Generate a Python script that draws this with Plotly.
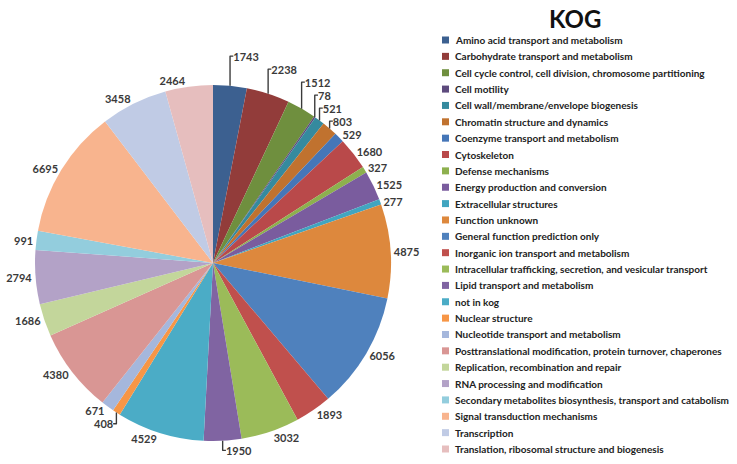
import plotly.graph_objects as go

categories = [
    "Amino acid transport and metabolism",
    "Carbohydrate transport and metabolism",
    "Cell cycle control, cell division, chromosome partitioning",
    "Cell motility",
    "Cell wall/membrane/envelope biogenesis",
    "Chromatin structure and dynamics",
    "Coenzyme transport and metabolism",
    "Cytoskeleton",
    "Defense mechanisms",
    "Energy production and conversion",
    "Extracellular structures",
    "Function unknown",
    "General function prediction only",
    "Inorganic ion transport and metabolism",
    "Intracellular trafficking, secretion, and vesicular transport",
    "Lipid transport and metabolism",
    "not in kog",
    "Nuclear structure",
    "Nucleotide transport and metabolism",
    "Posttranslational modification, protein turnover, chaperones",
    "Replication, recombination and repair",
    "RNA processing and modification",
    "Secondary metabolites biosynthesis, transport and catabolism",
    "Signal transduction mechanisms",
    "Transcription",
    "Translation, ribosomal structure and biogenesis",
]
counts = [1743, 2238, 1512, 78, 521, 803, 529, 1680, 327, 1525, 277, 4875, 6056,
          1893, 3032, 1950, 4529, 408, 671, 4380, 1686, 2794, 991, 6695, 3458, 2464]
colors = ["#3C6090", "#923C3A", "#6F8F3E", "#5D4A7D", "#358A9E", "#C0722F",
          "#4576B8", "#B9494A", "#8DB04E", "#7A5C9E", "#41A5C0", "#DD883D",
          "#4F81BD", "#C0504D", "#9BBB59", "#8064A2", "#4BACC6", "#F79646",
          "#A5B7DC", "#D99694", "#C3D69B", "#B3A2C7", "#93CDDD", "#F8B48E",
          "#C0CBE5", "#E6BEBE"]
title_text = "KOG"

W, H = 737, 464
FONT = "Lato"

fig = go.Figure()
fig.add_trace(go.Pie(
    labels=categories, values=counts, sort=False, direction="clockwise", rotation=0,
    marker=dict(colors=colors, line=dict(width=0)),
    textinfo="value", textposition="outside",
    outsidetextfont=dict(family=FONT, size=11, color="#3a3a3a", weight="bold"),
    automargin=False, showlegend=False,
    domain=dict(x=[35 / W, 391 / W], y=[(201 - 178) / H, (201 + 178) / H]),
    hoverinfo="label+value",
))

annotations = [dict(text="<b>" + title_text + "</b>", x=575 / W, y=1 - 19 / H,
                    xref="paper", yref="paper", showarrow=False,
                    font=dict(family=FONT, size=24, color="#111111"),
                    xanchor="center", yanchor="middle")]
shapes = []
y0, step = 40, 16.36
for i, (cat, col) in enumerate(zip(categories, colors)):
    yc = y0 + i * step
    shapes.append(dict(type="rect", xref="paper", yref="paper",
                       x0=442 / W, x1=449 / W, y0=1 - (yc + 3.5) / H, y1=1 - (yc - 3.5) / H,
                       fillcolor=col, line=dict(width=0)))
    annotations.append(dict(text=cat, x=453 / W, y=1 - yc / H, xref="paper", yref="paper",
                            showarrow=False, xanchor="left", yanchor="middle",
                            font=dict(family=FONT, size=10, color="#222222", weight="bold")))

fig.update_layout(width=W, height=H, margin=dict(l=0, r=0, t=0, b=0),
                  paper_bgcolor="white", plot_bgcolor="white",
                  annotations=annotations, shapes=shapes)
fig.write_html("out.html")
